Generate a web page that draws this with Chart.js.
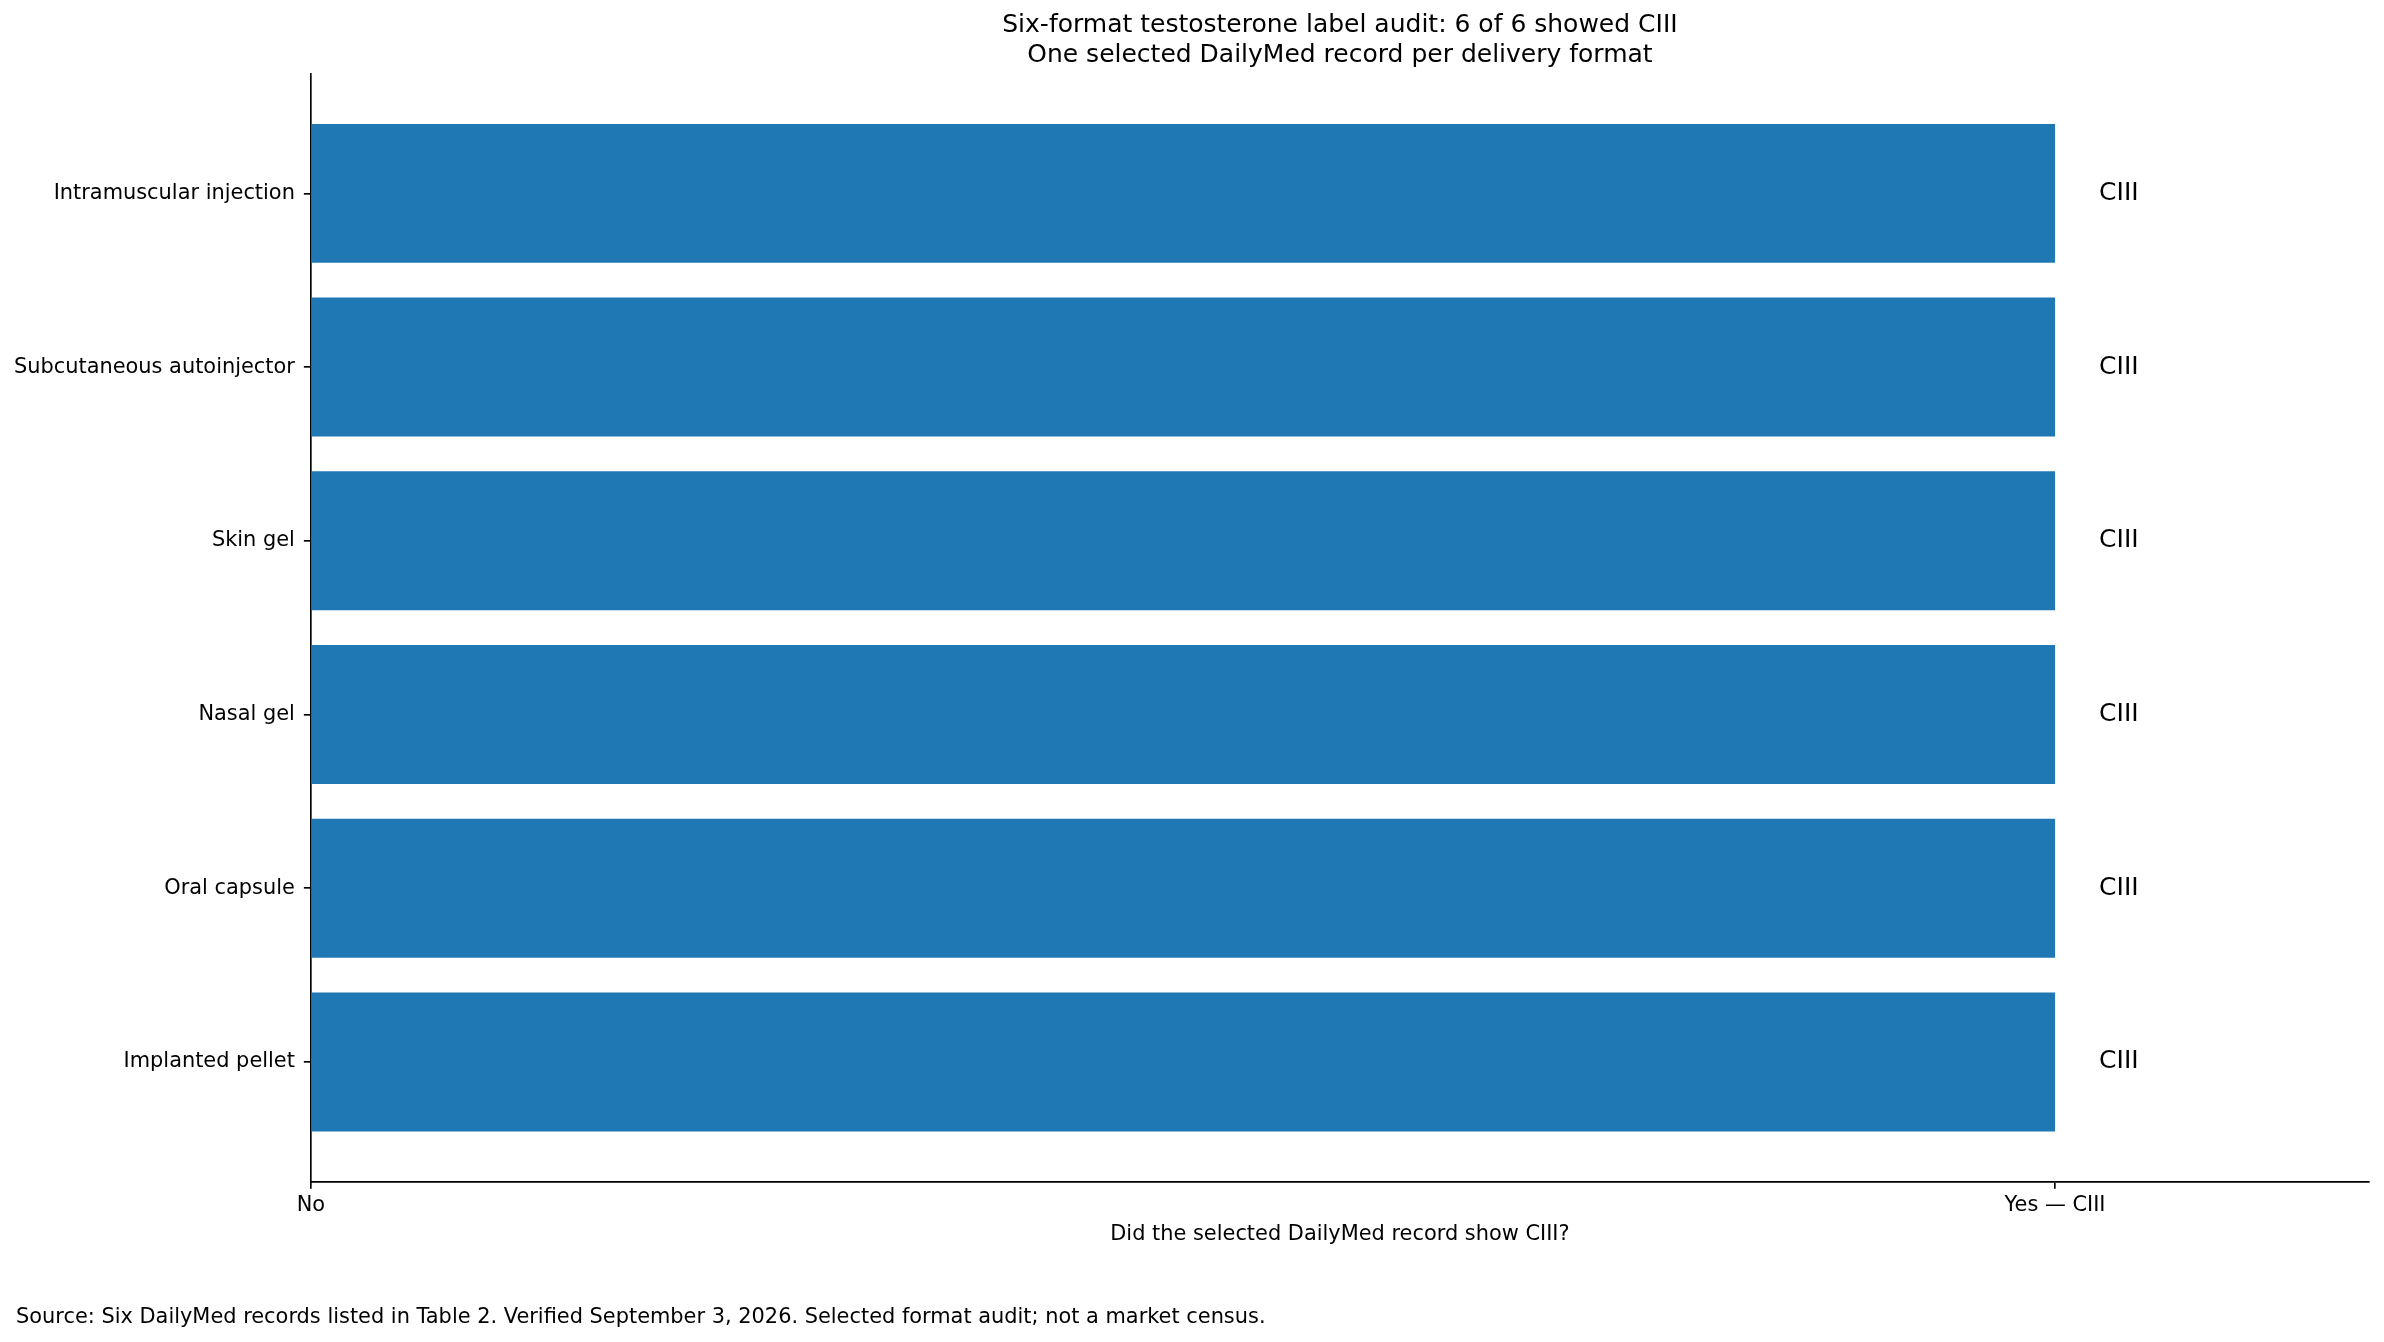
<!DOCTYPE html>
<html>
<head>
<meta charset="utf-8">
<script src="https://cdn.jsdelivr.net/npm/chart.js@4.4.1/dist/chart.umd.min.js"></script>
<style>
  html, body { margin: 0; padding: 0; background: #fff; }
  #wrap { width: 2384px; height: 1342px; }
</style>
</head>
<body>
<div id="wrap"><canvas id="auditChart" width="2384" height="1342"></canvas></div>
<script>
// delivery formats, top to bottom
const formats = ['Intramuscular injection', 'Subcutaneous autoinjector', 'Skin gel', 'Nasal gel', 'Oral capsule', 'Implanted pellet'];
// 1 = selected record showed CIII, 0 = no
const showedCIII = [1, 1, 1, 1, 1, 1];
const statusText = ['CIII', 'CIII', 'CIII', 'CIII', 'CIII', 'CIII'];
const xTickLabels = ['No', 'Yes \u2014 CIII'];

const titleLines = ['Six-format testosterone label audit: 6 of 6 showed CIII', 'One selected DailyMed record per delivery format'];
const xTitle = 'Did the selected DailyMed record show CIII?';
const sourceNote = 'Source: Six DailyMed records listed in Table 2. Verified September 3, 2026. Selected format audit; not a market census.';

const FONT = 'DejaVu Sans';
const small = 20.9; // 10pt
const big = 25;     // 12pt

// CIII text at the end of every bar
const barLabels = {
  id: 'barLabels',
  afterDatasetsDraw(chart) {
    const ctx = chart.ctx;
    const meta = chart.getDatasetMeta(0);
    ctx.save();
    ctx.fillStyle = '#000';
    ctx.font = big + 'px "' + FONT + '"';
    ctx.textAlign = 'left';
    ctx.textBaseline = 'middle';
    meta.data.forEach((bar, i) => {
      ctx.fillText(statusText[i], bar.x + 44, bar.y);
    });
    ctx.restore();
  }
};

// footnote along the bottom left
const footnote = {
  id: 'footnote',
  afterDraw(chart) {
    const ctx = chart.ctx;
    ctx.save();
    ctx.fillStyle = '#000';
    ctx.font = small + 'px "' + FONT + '"';
    ctx.textAlign = 'left';
    ctx.textBaseline = 'middle';
    ctx.fillText(sourceNote, 16, 1318);
    ctx.restore();
  }
};

const ctx = document.getElementById('auditChart').getContext('2d');

new Chart(ctx, {
  type: 'bar',
  data: {
    datasets: [{
      data: showedCIII.map((v, i) => ({ x: v, y: i })),
      backgroundColor: '#1f77b4',
      borderWidth: 0,
      barPercentage: 0.8,
      categoryPercentage: 1.0,
    }]
  },
  options: {
    indexAxis: 'y',
    responsive: false,
    animation: false,
    devicePixelRatio: 1,
    layout: {
      padding: { left: 5, right: 15, top: 0, bottom: 96 }
    },
    scales: {
      y: {
        type: 'linear',
        reverse: true,
        offset: false,
        min: -0.69,
        max: 5.69,
        afterBuildTicks: (scale) => {
          scale.ticks = formats.map((f, i) => ({ value: i }));
        },
        border: { display: true, color: '#000', width: 1.66 },
        grid: { offset: false, drawOnChartArea: false, drawTicks: true, tickLength: 7, color: '#000', lineWidth: 1.66 },
        ticks: {
          color: '#000',
          padding: 9,
          autoSkip: false,
          font: { family: FONT, size: small },
          callback: (value) => formats[value] ?? ''
        }
      },
      x: {
        type: 'linear',
        min: 0,
        max: 1.18,
        afterBuildTicks: (scale) => {
          scale.ticks = xTickLabels.map((t, i) => ({ value: i }));
        },
        border: { display: true, color: '#000', width: 1.66 },
        grid: { drawOnChartArea: false, drawTicks: true, tickLength: 7, color: '#000', lineWidth: 1.66 },
        ticks: {
          color: '#000',
          padding: 4,
          maxRotation: 0,
          font: { family: FONT, size: small },
          callback: (value) => xTickLabels[value] ?? ''
        },
        title: {
          display: true,
          text: xTitle,
          color: '#000',
          font: { family: FONT, size: small },
          padding: { top: 0, bottom: -1 }
        }
      }
    },
    plugins: {
      legend: { display: false },
      tooltip: { enabled: false },
      title: {
        display: true,
        fullSize: false,
        text: titleLines,
        color: '#000',
        font: { family: FONT, size: big, weight: 'normal', lineHeight: 1.2 },
        padding: { top: 10, bottom: 3.5 }
      }
    }
  },
  plugins: [barLabels, footnote]
});
</script>
</body>
</html>
